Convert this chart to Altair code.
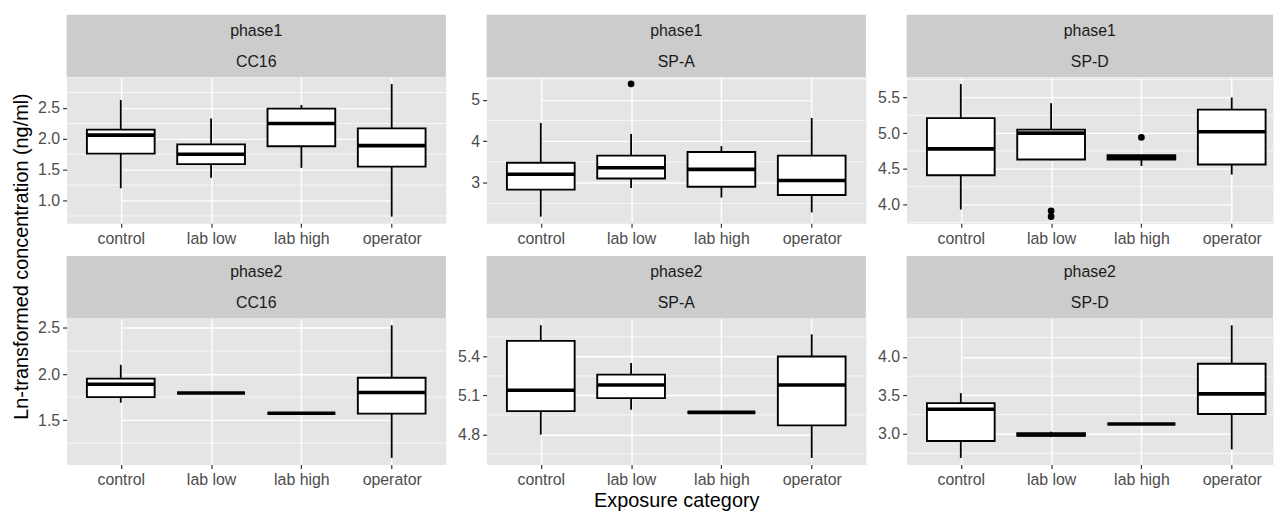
import altair as alt
import pandas as pd

FONT = "Liberation Sans"

categories = ["control", "lab low", "lab high", "operator"]
phases = ["phase1", "phase1", "phase1", "phase2", "phase2", "phase2"]
markers = ["CC16", "SP-A", "SP-D", "CC16", "SP-A", "SP-D"]

# box statistics per panel (panel order as in phases/markers), per category
whisker_low = [
    [1.20, 1.37, 1.53, 0.74],
    [2.18, 2.87, 2.64, 2.28],
    [3.93, 4.62, 4.54, 4.42],
    [1.69, 1.795, 1.575, 1.09],
    [4.80, 4.99, 4.97, 4.62],
    [2.69, 2.96, 3.13, 2.80],
]
q1 = [
    [1.76, 1.59, 1.88, 1.55],
    [2.83, 3.10, 2.90, 2.70],
    [4.41, 4.63, 4.63, 4.56],
    [1.75, 1.795, 1.575, 1.57],
    [4.98, 5.08, 4.97, 4.87],
    [2.91, 2.975, 3.13, 3.26],
]
median = [
    [2.06, 1.75, 2.25, 1.89],
    [3.20, 3.36, 3.32, 3.05],
    [4.78, 5.00, 4.66, 5.02],
    [1.89, 1.795, 1.575, 1.80],
    [5.14, 5.18, 4.97, 5.18],
    [3.32, 2.99, 3.13, 3.52],
]
q3 = [
    [2.15, 1.91, 2.49, 2.17],
    [3.48, 3.65, 3.74, 3.65],
    [5.21, 5.05, 4.69, 5.33],
    [1.95, 1.795, 1.575, 1.96],
    [5.52, 5.26, 4.97, 5.40],
    [3.40, 3.01, 3.13, 3.91],
]
whisker_high = [
    [2.63, 2.33, 2.55, 2.89],
    [4.44, 4.17, 3.88, 4.56],
    [5.69, 5.42, 4.69, 5.50],
    [2.10, 1.795, 1.575, 2.53],
    [5.64, 5.35, 4.97, 5.57],
    [3.53, 3.03, 3.13, 4.41],
]

outlier_panel = [1, 2, 2, 2]
outlier_cat = ["lab low", "lab low", "lab low", "lab high"]
outlier_val = [5.38, 3.91, 3.83, 4.94]

y_breaks = [
    [1.0, 1.5, 2.0, 2.5],
    [3, 4, 5],
    [4.0, 4.5, 5.0, 5.5],
    [1.5, 2.0, 2.5],
    [4.8, 5.1, 5.4],
    [3.0, 3.5, 4.0],
]
y_minor = [
    [0.75, 1.25, 1.75, 2.25, 2.75],
    [2.5, 3.5, 4.5, 5.5],
    [3.75, 4.25, 4.75, 5.25, 5.75],
    [1.25, 1.75, 2.25],
    [4.65, 4.95, 5.25, 5.55],
    [2.75, 3.25, 3.75, 4.25],
]
y_formats = [".1f", "d", ".1f", ".1f", ".1f", ".1f"]

PANEL_W = [382, 382, 369]
PANEL_H = 147
STRIP_H = 63
STEP = 382 / 4.2
BOX_W = 0.75 * STEP

AXIS_STYLE = dict(
    labelFont=FONT, labelFontSize=16, labelColor="#4D4D4D",
    tickColor="#333333", tickSize=4, tickWidth=1.2,
    domain=False, grid=True, gridColor="white", gridWidth=1.4,
    labelPadding=3, titleFont=FONT, titleFontSize=20,
    titleFontWeight="normal", titleColor="black",
)


def panel(i):
    w = PANEL_W[i % 3]
    df = pd.DataFrame({
        "cat": categories,
        "lower": whisker_low[i],
        "q1": q1[i],
        "med": median[i],
        "q3": q3[i],
        "upper": whisker_high[i],
    })
    out = pd.DataFrame({
        "cat": [c for p, c in zip(outlier_panel, outlier_cat) if p == i],
        "val": [v for p, v in zip(outlier_panel, outlier_val) if p == i],
    })
    all_vals = whisker_low[i] + whisker_high[i] + list(out["val"])
    lo, hi = min(all_vals), max(all_vals)
    r = hi - lo
    yscale = alt.Scale(domain=[lo - 0.05 * r, hi + 0.05 * r], zero=False, nice=False)
    xscale = alt.Scale(type="point", domain=categories,
                       range=[0.6 * STEP, 3.6 * STEP], padding=0)

    if i == 0:
        yaxis = alt.Axis(values=y_breaks[i], format=y_formats[i],
                         title="Ln-transformed concentration (ng/ml)",
                         titleX=-45.5, titleY=180, titleAngle=270,
                         titleAlign="center", titleBaseline="middle",
                         **AXIS_STYLE)
    else:
        yaxis = alt.Axis(values=y_breaks[i], format=y_formats[i], title=None,
                         **AXIS_STYLE)
    if i == 4:
        xaxis = alt.Axis(labelAngle=0, title="Exposure category",
                         titlePadding=3, **AXIS_STYLE)
    else:
        xaxis = alt.Axis(labelAngle=0, title=None, **AXIS_STYLE)

    minor = alt.Chart(pd.DataFrame({"v": y_minor[i]})).mark_rule(
        color="white", strokeWidth=0.7
    ).encode(y=alt.Y("v:Q", scale=yscale, axis=yaxis))

    strip_df = pd.DataFrame({"phase": [phases[i]], "marker": [markers[i]]})
    strip_rect = alt.Chart(strip_df).mark_rect(color="#CCCCCC").encode(
        x=alt.value(0), x2=alt.value(w),
        y=alt.value(-STRIP_H), y2=alt.value(0),
    )
    strip_t1 = alt.Chart(strip_df).mark_text(
        font=FONT, fontSize=16, color="#1A1A1A", baseline="middle"
    ).encode(x=alt.value(w / 2), y=alt.value(-47), text="phase:N")
    strip_t2 = alt.Chart(strip_df).mark_text(
        font=FONT, fontSize=16, color="#1A1A1A", baseline="middle"
    ).encode(x=alt.value(w / 2), y=alt.value(-15.5), text="marker:N")

    X = alt.X("cat:N", scale=xscale, axis=xaxis, sort=categories)
    base = alt.Chart(df)
    whisk = base.mark_rule(color="black", strokeWidth=1.8, opacity=1).encode(
        x=X, y=alt.Y("lower:Q", scale=yscale), y2="upper:Q")
    box = base.mark_bar(size=BOX_W, fill="white", stroke="black",
                        strokeWidth=1.9, opacity=1).encode(
        x=X, y=alt.Y("q1:Q", scale=yscale), y2="q3:Q")
    med = base.mark_tick(size=BOX_W, thickness=3.6, color="black",
                         opacity=1).encode(
        x=X, y=alt.Y("med:Q", scale=yscale))
    layers = [minor, strip_rect, strip_t1, strip_t2, whisk, box, med]
    if len(out):
        pts = alt.Chart(out).mark_circle(size=45, color="black", opacity=1).encode(
            x=X, y=alt.Y("val:Q", scale=yscale))
        layers.append(pts)
    return alt.layer(*layers).properties(width=w, height=PANEL_H)


chart = alt.concat(
    *[panel(i) for i in range(6)],
    columns=3,
    spacing={"row": 96, "column": 41},
    bounds="flush",
).properties(
    padding={"left": 3, "top": 5, "right": 0, "bottom": 0}
).configure_view(
    fill="#E5E5E5", strokeOpacity=0
)

chart.save("out.html", embed_options={"renderer": "svg", "actions": False})
